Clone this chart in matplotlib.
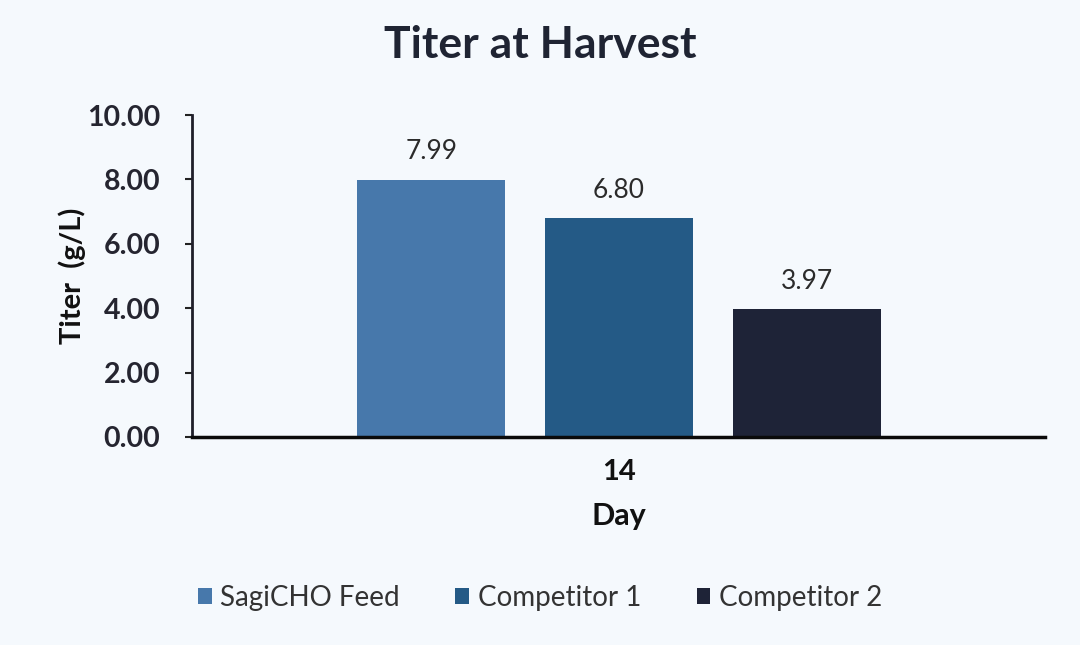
import numpy as np
import matplotlib
matplotlib.use('Agg')
import matplotlib.pyplot as plt

# data
days = ['14']
series = ['SagiCHO Feed', 'Competitor 1', 'Competitor 2']
titer = [7.99, 6.80, 3.97]
yticks = [0, 2, 4, 6, 8, 10]

colors = ['#4778ab', '#245a86', '#1e2337']
bg = '#f5f9fd'

plt.rcParams['font.family'] = ['Lato', 'DejaVu Sans']

fig = plt.figure(figsize=(10.8, 6.45), dpi=100, facecolor=bg)
ax = fig.add_axes([0.178, 0.3225, 0.79, 0.4992], facecolor=bg)

x = np.arange(len(days))
width = 0.1735
offsets = [-0.22, 0.0, 0.22]
for i in range(len(series)):
    bars = ax.bar(x + offsets[i], [titer[i]], width, color=colors[i],
                  label=series[i])
    ax.bar_label(bars, labels=['%.2f' % titer[i]], padding=11,
                 fontsize=19, color='#2b2b2b')

ax.set_xlim(-0.5, 0.5)
ax.set_ylim(0, 10)
ax.set_yticks(yticks)
ax.set_yticklabels(['%.2f' % v for v in yticks], fontsize=20.5,
                   fontweight='bold', color='#252530')
ax.set_xticks(x)
ax.set_xticklabels(days, fontsize=21, fontweight='bold', color='#111111')
ax.tick_params(axis='x', length=0, pad=16)
ax.tick_params(axis='y', length=5, width=1.5, color='#222222', pad=18)

for s in ['top', 'right']:
    ax.spines[s].set_visible(False)
ax.spines['left'].set_linewidth(2)
ax.spines['left'].set_color('#1f1f2a')
ax.spines['bottom'].set_linewidth(2.5)
ax.spines['bottom'].set_color('#0a0a0a')

ax.set_xlabel('Day', fontsize=22, fontweight='bold', color='#111111',
              labelpad=12)
ax.set_ylabel('Titer  (g/L)', fontsize=21, fontweight='bold',
              color='#111111')
ax.yaxis.set_label_coords(-0.125, 0.5)

fig.text(0.5, 0.93, 'Titer at Harvest', ha='center', va='center',
         fontsize=32, fontweight='bold', color='#1f2433')

fig.legend(loc='center', bbox_to_anchor=(0.5, 0.073), ncol=3,
           frameon=False, fontsize=20, handlelength=0.5, handleheight=0.5,
           handletextpad=0.3, columnspacing=2.0, labelcolor='#333333')

fig.savefig('out.png', dpi=100, facecolor=bg)
